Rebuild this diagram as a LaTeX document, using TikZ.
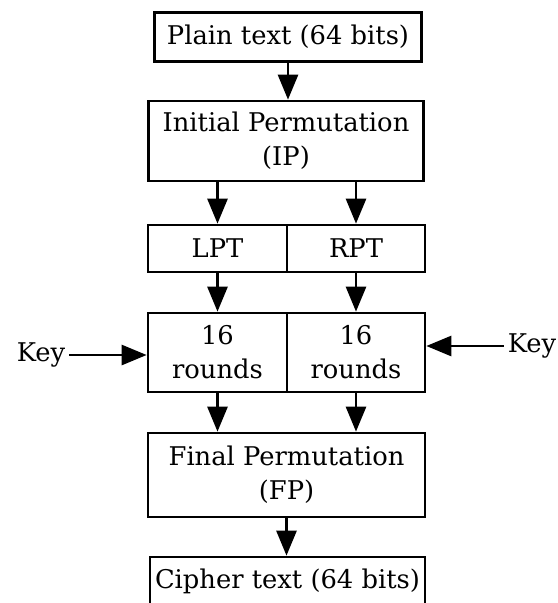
\documentclass[tikz,border=0pt]{standalone}
\usepackage{tikz}
\usepackage{fontspec}
\setmainfont{DejaVu Serif}
\usetikzlibrary{arrows.meta}

\begin{document}
\begin{tikzpicture}[x=0.03cm, y=-0.03cm,
    caixa/.style={draw, line width=2.3pt, inner sep=0pt, align=center, font=\fontsize{22}{29}\selectfont},
    fletxa/.style={line width=2.3pt, -{Triangle[length=0.75cm, width=0.6cm]}}]
    % MARGES DEL DIBUIX
    \useasboundingbox (0,0) rectangle (558,603);

    % CAIXES
    \node[caixa, minimum width=8.01cm, minimum height=1.47cm] (plain) at (288,37) {Plain text (64 bits)};
    \node[caixa, minimum width=8.25cm, minimum height=2.4cm] (ip) at (286,141) {Initial Permutation\\(IP)};
    \node[caixa, minimum width=4.17cm, minimum height=1.41cm] (lpt) at (217.5,248.5) {LPT};
    \node[caixa, minimum width=4.14cm, minimum height=1.41cm] (rpt) at (356,248.5) {RPT};
    \node[caixa, minimum width=4.17cm, minimum height=2.37cm] (rl) at (217.5,352.5) {16\\rounds};
    \node[caixa, minimum width=4.14cm, minimum height=2.37cm] (rr) at (356,352.5) {16\\rounds};
    \node[caixa, minimum width=8.31cm, minimum height=2.52cm] (fp) at (286.5,475) {Final Permutation\\(FP)};
    \node[caixa, minimum width=8.25cm, minimum height=1.44cm] (ct) at (287.5,581) {Cipher text (64 bits)};

    % CLAUS
    \node[font=\fontsize{22}{29}\selectfont] (keyl) at (41,355) {Key};
    \node[font=\fontsize{22}{29}\selectfont] (keyr) at (532,346) {Key};

    % FLETXES
    \draw[fletxa] (plain.south) -- (plain.south |- ip.north);
    \foreach \b in {lpt, rpt} {
        \draw[fletxa] (ip.south -| \b) -- (\b.north);
    }
    \foreach \a/\b in {lpt/rl, rpt/rr} {
        \draw[fletxa] (\a.south) -- (\b.north);
        \draw[fletxa] (\b.south) -- (\b.south |- fp.north);
    }
    \draw[fletxa] (fp.south) -- (fp.south |- ct.north);
    \draw[fletxa] (keyl) -- (keyl -| rl.west);
    \draw[fletxa] (keyr) -- (keyr -| rr.east);

\end{tikzpicture}
\end{document}
